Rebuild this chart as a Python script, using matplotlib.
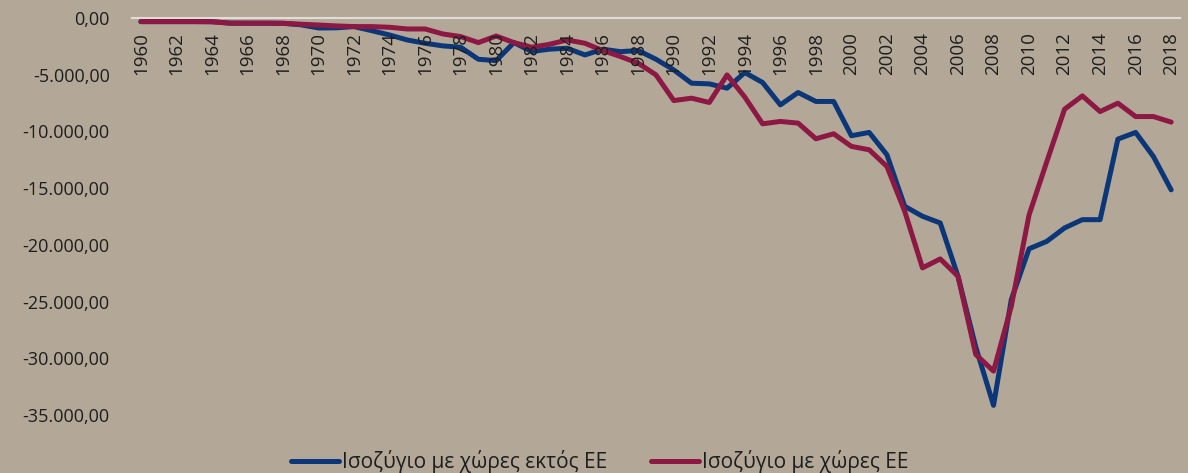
import matplotlib
matplotlib.use("Agg")
import matplotlib.pyplot as plt
from matplotlib.ticker import FuncFormatter, MultipleLocator
import numpy as np

years = list(range(1960, 2019))

# Ισοζύγιο με χώρες εκτός ΕΕ
non_eu = [-320, -320, -320, -320, -330, -450, -460, -460, -470, -600,
          -880, -870, -760, -1120, -1500, -1940, -2230, -2460, -2580, -3640,
          -3760, -2170, -2960, -2750, -2670, -3260, -2750, -2970, -2870, -3640,
          -4580, -5750, -5810, -6190, -4810, -5690, -7660, -6570, -7360, -7360,
          -10380, -10090, -12060, -16600, -17480, -18070, -22770, -29000, -34150, -24830,
          -20350, -19690, -18510, -17780, -17780, -10680, -10090, -12210, -15150]

# Ισοζύγιο με χώρες ΕΕ
eu = [-320, -320, -320, -320, -330, -460, -460, -460, -470, -550,
      -620, -700, -760, -760, -820, -970, -970, -1410, -1640, -2170,
      -1590, -2170, -2580, -2320, -1940, -2230, -2870, -3400, -3990, -5020,
      -7280, -7070, -7450, -5020, -6980, -9330, -9120, -9270, -10650, -10210,
      -11320, -11620, -13090, -17040, -22030, -21240, -22770, -29660, -31130, -25420,
      -17370, -12660, -8040, -6870, -8250, -7510, -8690, -8690, -9180]

labels = ["Ισοζύγιο με χώρες εκτός ΕΕ", "Ισοζύγιο με χώρες ΕΕ"]

bg = "#b3a898"
blue = "#0b3778"
red = "#8c1843"
txt = "#1e1e1e"

plt.rcParams["font.family"] = ["Open Sans", "DejaVu Sans"]

fig = plt.figure(figsize=(11.88, 4.73), dpi=100, facecolor=bg)
ax = fig.add_axes([0.1111, 0.1226, 0.8822, 0.8394], facecolor=bg)

x = np.arange(len(years))
ax.plot(x, non_eu, color=blue, lw=3.6, solid_capstyle="round",
        solid_joinstyle="round", label=labels[0], zorder=2)
ax.plot(x, eu, color=red, lw=3.6, solid_capstyle="round",
        solid_joinstyle="round", label=labels[1], zorder=2)

# spine position first, it resets the ticks
for s in ["top", "right", "left"]:
    ax.spines[s].set_visible(False)
ax.spines["bottom"].set_position(("data", 0))
ax.spines["bottom"].set_color("#e2ddd6")
ax.spines["bottom"].set_linewidth(1.5)
ax.spines["bottom"].set_zorder(1)
ax.set_axisbelow(False)  # year labels drawn over the lines

ax.set_xlim(-0.5, len(years) - 0.5)
ax.set_ylim(-35000, 0)

ax.set_xticks(x[::2])
ax.set_xticklabels([str(y) for y in years[::2]], rotation=90, fontsize=13.5, color=txt)
ax.tick_params(axis="x", length=0, pad=10)

ax.yaxis.set_major_locator(MultipleLocator(5000))
fmt = lambda v, p: "{:,.2f}".format(v).replace(",", "X").replace(".", ",").replace("X", ".")
ax.yaxis.set_major_formatter(FuncFormatter(fmt))
ax.tick_params(axis="y", length=0, pad=16, labelsize=13, labelcolor=txt)

leg = fig.legend(loc="center", bbox_to_anchor=(0.505, 0.024), ncol=2, frameon=False,
                 fontsize=15, handlelength=2.3, handletextpad=0.15, columnspacing=2.1,
                 labelcolor=txt)

fig.savefig("out.png", dpi=100, facecolor=bg)
